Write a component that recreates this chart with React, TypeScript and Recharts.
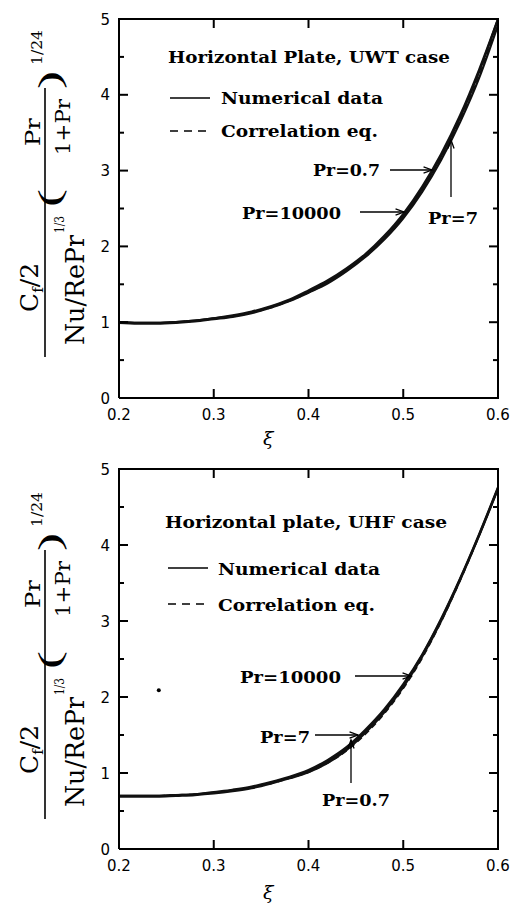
import { LineChart, Line, XAxis, YAxis, ReferenceDot } from "recharts";

// xi values (shared by both panels)
const xi = [0.2, 0.22, 0.24, 0.26, 0.28, 0.3, 0.32, 0.34, 0.36, 0.38, 0.4, 0.42, 0.44, 0.46, 0.48, 0.5, 0.52, 0.54, 0.56, 0.58, 0.6];

// UWT case
const uwtPr07 = [1.0, 0.99, 0.99, 1.0, 1.02, 1.05, 1.08, 1.13, 1.2, 1.29, 1.4, 1.53, 1.69, 1.88, 2.11, 2.4, 2.76, 3.19, 3.7, 4.3, 5.0];
const uwtPr7 = [1.0, 0.99, 0.99, 1.0, 1.02, 1.05, 1.09, 1.14, 1.21, 1.3, 1.42, 1.55, 1.71, 1.9, 2.14, 2.43, 2.79, 3.22, 3.73, 4.33, 5.0];
const uwtPr10000 = [0.99, 0.98, 0.98, 0.99, 1.01, 1.04, 1.07, 1.12, 1.19, 1.28, 1.39, 1.51, 1.67, 1.86, 2.09, 2.37, 2.72, 3.14, 3.64, 4.22, 4.92];
const uwtCorr = [1.0, 0.99, 0.99, 1.0, 1.02, 1.05, 1.08, 1.13, 1.19, 1.28, 1.39, 1.52, 1.68, 1.87, 2.1, 2.38, 2.74, 3.16, 3.66, 4.25, 4.95];

// UHF case
const uhfPr07 = [0.7, 0.7, 0.7, 0.71, 0.72, 0.74, 0.77, 0.81, 0.87, 0.94, 1.02, 1.15, 1.32, 1.55, 1.82, 2.15, 2.55, 3.02, 3.55, 4.13, 4.75];
const uhfPr7 = [0.7, 0.7, 0.7, 0.71, 0.72, 0.75, 0.78, 0.82, 0.88, 0.95, 1.04, 1.17, 1.34, 1.57, 1.84, 2.17, 2.56, 3.03, 3.56, 4.14, 4.76];
const uhfPr10000 = [0.69, 0.69, 0.69, 0.7, 0.71, 0.73, 0.76, 0.8, 0.86, 0.93, 1.01, 1.13, 1.3, 1.53, 1.8, 2.13, 2.53, 3.0, 3.54, 4.12, 4.74];
const uhfCorr = [0.7, 0.7, 0.7, 0.71, 0.72, 0.74, 0.77, 0.81, 0.86, 0.93, 1.01, 1.13, 1.29, 1.51, 1.78, 2.11, 2.51, 2.99, 3.53, 4.12, 4.74];

const xTicks = [0.2, 0.3, 0.4, 0.5, 0.6];
const yTicks = [0, 0.5, 1, 1.5, 2, 2.5, 3, 3.5, 4, 4.5, 5];

const INK = "#111";
const SERIF = "DejaVu Serif, serif";
const SANS = "DejaVu Sans, sans-serif";

function buildRows(a: number[], b: number[], c: number[], d: number[]) {
  return xi.map((x, i) => ({ xi: x, pr07: a[i], pr7: b[i], pr10000: c[i], corr: d[i] }));
}

const uwtRows = buildRows(uwtPr07, uwtPr7, uwtPr10000, uwtCorr);
const uhfRows = buildRows(uhfPr07, uhfPr7, uhfPr10000, uhfCorr);

const isMajor = (v: number) => Math.abs(v - Math.round(v)) < 1e-6;
const MAJ = 9;
const MIN = 5;

// inward tick marks on the bottom and left axes, drawn by the tick renderers
const BottomTick = (p: any) => (
  <g>
    <line x1={p.x} y1={p.y} x2={p.x} y2={p.y - MAJ} stroke="#000" strokeWidth={2} />
    <text x={p.x} y={p.y + 22} textAnchor="middle" fontSize={15} fontFamily={SANS} fill="#000">
      {Number(p.payload.value).toFixed(1)}
    </text>
  </g>
);
const LeftTick = (p: any) => {
  const v = p.payload.value;
  const m = isMajor(v);
  return (
    <g>
      <line x1={p.x} y1={p.y} x2={p.x + (m ? MAJ : MIN)} y2={p.y} stroke="#000" strokeWidth={2} />
      {m && (
        <text x={p.x - 9} y={p.y + 5.5} textAnchor="end" fontSize={15} fontFamily={SANS} fill="#000">
          {v}
        </text>
      )}
    </g>
  );
};

function Panel({ rows, height, axisH, dot }: { rows: any[]; height: number; axisH: number; dot?: boolean }) {
  const frame = { stroke: "#000", strokeWidth: 2 };
  return (
    <LineChart width={512} height={height} data={rows} margin={{ top: 19, right: 14, bottom: 0, left: 0 }}>
      <XAxis dataKey="xi" type="number" domain={[0.2, 0.6]} ticks={xTicks} interval={0} height={axisH}
        tickLine={false} tickSize={0} tickMargin={0} axisLine={frame} tick={BottomTick} allowDataOverflow />
      <YAxis type="number" domain={[0, 5]} ticks={yTicks} interval={0} width={119}
        tickLine={false} tickSize={0} tickMargin={0} axisLine={frame} tick={LeftTick} allowDataOverflow />
      <Line dataKey="pr07" type="monotone" stroke={INK} strokeWidth={2.2} dot={false} isAnimationActive={false} />
      <Line dataKey="pr7" type="monotone" stroke={INK} strokeWidth={2.2} dot={false} isAnimationActive={false} />
      <Line dataKey="pr10000" type="monotone" stroke={INK} strokeWidth={2.2} dot={false} isAnimationActive={false} />
      <Line dataKey="corr" type="monotone" stroke={INK} strokeWidth={1.6} strokeDasharray="6 4" dot={false} isAnimationActive={false} />
      {dot && <ReferenceDot x={0.242} y={2.09} r={2} fill="#000" stroke="none" />}
    </LineChart>
  );
}

// top and right edges of the box with their inward ticks
function Frame({ top, bottom }: { top: number; bottom: number }) {
  const left = 119;
  const right = 498;
  const px = (v: number) => left + ((v - 0.2) / 0.4) * (right - left);
  const py = (v: number) => bottom - (v / 5) * (bottom - top);
  return (
    <g stroke="#000" strokeWidth={2}>
      <line x1={left - 1} y1={top} x2={right + 1} y2={top} />
      <line x1={right} y1={top} x2={right} y2={bottom + 1} />
      {xTicks.slice(1, -1).map((t) => (
        <line key={"x" + t} x1={px(t)} y1={top} x2={px(t)} y2={top + MAJ} />
      ))}
      {yTicks.slice(1, -1).map((t) => (
        <line key={"y" + t} x1={right} y1={py(t)} x2={right - (isMajor(t) ? MAJ : MIN)} y2={py(t)} />
      ))}
    </g>
  );
}

function YLabel({ y0 }: { y0: number }) {
  return (
    <g transform={`translate(0 ${y0}) rotate(-90)`} fontFamily={SERIF} fill="#000">
      <text x={88} y={38} fontSize={25}>
        C<tspan fontSize={15} dy={5}>f</tspan>
        <tspan dy={-5}>/2</tspan>
      </text>
      <line x1={43} y1={45} x2={312} y2={45} stroke="#000" strokeWidth={1.6} />
      <text x={55} y={84} fontSize={26} textLength={110} lengthAdjust="spacingAndGlyphs">Nu/RePr</text>
      <text x={167} y={64} fontSize={13} textLength={17} lengthAdjust="spacingAndGlyphs">1/3</text>
      <text x={193} y={60} fontSize={32} fontFamily="Liberation Serif, serif" textLength={18} lengthAdjust="spacingAndGlyphs">(</text>
      <text x={254} y={40} fontSize={21} textLength={28} lengthAdjust="spacingAndGlyphs">Pr</text>
      <text x={245} y={70} fontSize={21} textLength={56} lengthAdjust="spacingAndGlyphs">1+Pr</text>
      <text x={311} y={60} fontSize={32} fontFamily="Liberation Serif, serif" textLength={18} lengthAdjust="spacingAndGlyphs">)</text>
      <text x={335} y={42} fontSize={14} textLength={35} lengthAdjust="spacingAndGlyphs">1/24</text>
    </g>
  );
}

function Arrow({ x1, y1, x2, y2 }: { x1: number; y1: number; x2: number; y2: number }) {
  const a = Math.atan2(y2 - y1, x2 - x1);
  const L = 9;
  const w = 0.35;
  const hx1 = x2 - L * Math.cos(a - w);
  const hy1 = y2 - L * Math.sin(a - w);
  const hx2 = x2 - L * Math.cos(a + w);
  const hy2 = y2 - L * Math.sin(a + w);
  return (
    <g stroke="#000" strokeWidth={1.3} fill="none">
      <line x1={x1} y1={y1} x2={x2} y2={y2} />
      <path d={`M${hx1},${hy1} L${x2},${y2} L${hx2},${hy2}`} />
    </g>
  );
}

function Note({ x, y, len, children }: { x: number; y: number; len: number; children: string }) {
  return (
    <text x={x} y={y} fontSize={17} fontWeight="bold" fontFamily={SERIF} fill="#000" textLength={len} lengthAdjust="spacingAndGlyphs">
      {children}
    </text>
  );
}

export default function App() {
  return (
    <div style={{ position: "absolute", left: 0, top: 0, width: 512, height: 905, background: "#fff" }}>
      <div style={{ position: "absolute", left: 0, top: 0 }}>
        <Panel rows={uwtRows} height={450} axisH={52} />
      </div>
      <div style={{ position: "absolute", left: 0, top: 450 }}>
        <Panel rows={uhfRows} height={455} axisH={56} dot />
      </div>
      <svg width={512} height={905} style={{ position: "absolute", left: 0, top: 0, pointerEvents: "none" }}>
        <Frame top={19} bottom={398} />
        <Frame top={469} bottom={849} />
        <YLabel y0={400} />
        <YLabel y0={862} />
        <text x={263} y={445} fontSize={19} fontStyle="italic" fontFamily={SERIF} fill="#000">ξ</text>
        <text x={263} y={899} fontSize={19} fontStyle="italic" fontFamily={SERIF} fill="#000">ξ</text>

        {/* top panel notes */}
        <Note x={168} y={63} len={282}>Horizontal Plate, UWT case</Note>
        <line x1={170} y1={98} x2={210} y2={98} stroke="#000" strokeWidth={1.5} />
        <Note x={221} y={104} len={162}>Numerical data</Note>
        <line x1={170} y1={131} x2={210} y2={131} stroke="#000" strokeWidth={1.5} strokeDasharray="8 6" />
        <Note x={221} y={137} len={157}>Correlation eq.</Note>
        <Note x={313} y={176} len={67}>Pr=0.7</Note>
        <Arrow x1={390} y1={170} x2={432} y2={170} />
        <Note x={242} y={219} len={99}>Pr=10000</Note>
        <Arrow x1={360} y1={212} x2={404} y2={212} />
        <Note x={428} y={224} len={50}>Pr=7</Note>
        <Arrow x1={451} y1={197} x2={451} y2={140} />

        {/* bottom panel notes */}
        <Note x={165} y={528} len={282}>Horizontal plate, UHF case</Note>
        <line x1={168} y1={568} x2={208} y2={568} stroke="#000" strokeWidth={1.5} />
        <Note x={218} y={575} len={162}>Numerical data</Note>
        <line x1={168} y1={604} x2={208} y2={604} stroke="#000" strokeWidth={1.5} strokeDasharray="8 6" />
        <Note x={218} y={611} len={157}>Correlation eq.</Note>
        <Note x={240} y={683} len={101}>Pr=10000</Note>
        <Arrow x1={355} y1={676} x2={411} y2={676} />
        <Note x={260} y={743} len={50}>Pr=7</Note>
        <Arrow x1={315} y1={735} x2={358} y2={735} />
        <Note x={322} y={806} len={68}>Pr=0.7</Note>
        <Arrow x1={351} y1={783} x2={351} y2={740} />
      </svg>
    </div>
  );
}
